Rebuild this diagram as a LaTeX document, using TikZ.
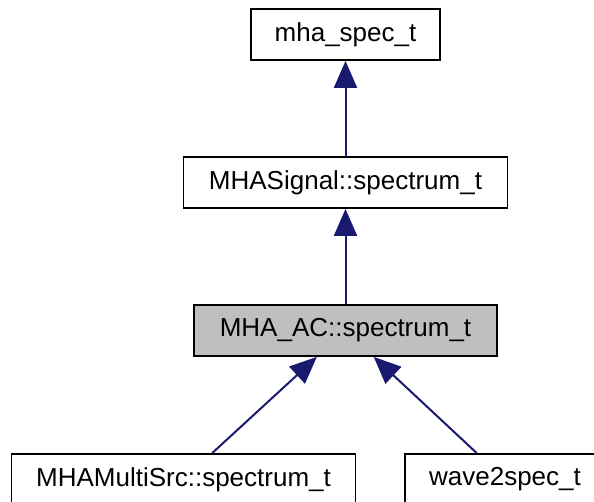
\documentclass[tikz,border=0pt]{standalone}
\usepackage{fontspec}
\setmainfont{Liberation Sans}
\usetikzlibrary{arrows.meta}
\definecolor{edgeblue}{RGB}{25,25,112}
\definecolor{boxgray}{RGB}{191,191,191}
\tikzset{
  cls/.style={draw=black, line width=1.8pt, fill=white, minimum height=51pt, inner sep=0pt, font=\fontsize{26}{29}\selectfont, text=black},
  cur/.style={cls, fill=boxgray},
  inh/.style={draw=edgeblue, line width=2pt, -{Triangle[length=27pt,width=23pt]}, shorten >=0pt}
}
\begin{document}
\begin{tikzpicture}[x=1pt,y=-1pt]
\useasboundingbox (0,0) rectangle (594,502);
\node[cls, minimum width=189pt] (spec) at (345.5,34.5) {mha\_spec\_t};
\node[cls, minimum width=324pt] (sig) at (345.5,182.5) {MHASignal::spectrum\_t};
\node[cur, minimum width=303pt] (ac) at (345.5,330.5) {MHA\_AC::spectrum\_t};
\node[cls, minimum width=344pt] (ms) at (183.5,479.5) {MHAMultiSrc::spectrum\_t};
\node[cls, minimum width=200pt] (w2s) at (505,479.5) {wave2spec\_t};
\draw[inh] (sig) -- (spec);
\draw[inh] (ac) -- (sig);
\draw[inh] (ms) -- (ac);
\draw[inh] (w2s) -- (ac);
\end{tikzpicture}
\end{document}
